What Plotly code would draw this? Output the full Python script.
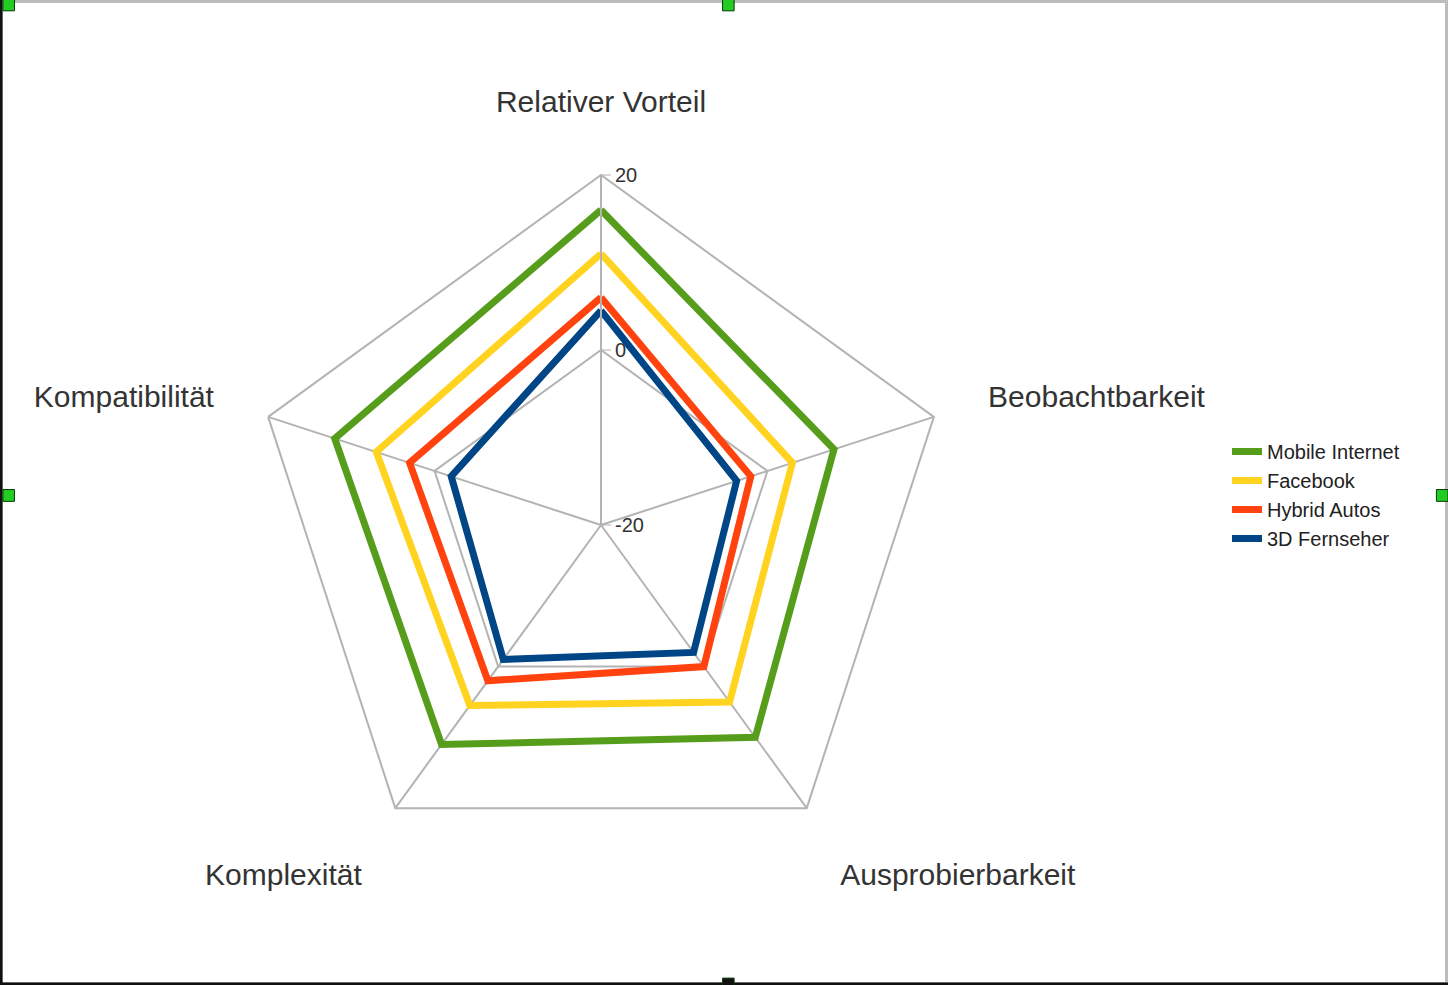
import plotly.graph_objects as go

categories = ["Relativer Vorteil", "Beobachtbarkeit", "Ausprobierbarkeit", "Komplexität", "Kompatibilität"]
series_names = ["Mobile Internet", "Facebook", "Hybrid Autos", "3D Fernseher"]
mobile_internet = [16, 8, 10, 11, 12]
facebook = [11, 3, 5, 5.5, 7]
hybrid_autos = [6, -2, 0, 2, 3]
fernseher_3d = [4.5, -3.7, -2, -1, -2]
series_values = [mobile_internet, facebook, hybrid_autos, fernseher_3d]
colors = ["#579d1c", "#ffd320", "#ff420e", "#004586"]
radial_ticks = [-20, 0, 20]

fig = go.Figure()
for i, (name, vals, col) in enumerate(zip(series_names, series_values, colors)):
    fig.add_trace(go.Scatterpolar(
        r=vals + [vals[0]],
        theta=categories + [categories[0]],
        mode="lines",
        name=name,
        legendgroup=f"g{i}",
        line=dict(color=col, width=7),
    ))

W, H = 1448, 985
cx, cy, R = 601, 525, 350

fig.update_layout(
    width=W, height=H,
    margin=dict(l=0, r=0, t=0, b=0),
    paper_bgcolor="white",
    plot_bgcolor="white",
    font=dict(family="Liberation Sans, Arial, sans-serif", color="#333333"),
    polar=dict(
        domain=dict(x=[(cx - R) / W, (cx + R) / W],
                    y=[(H - cy - R) / H, (H - cy + R) / H]),
        bgcolor="white",
        gridshape="linear",
        radialaxis=dict(
            range=[-20, 20],
            tickvals=radial_ticks,
            ticktext=[str(v) for v in radial_ticks],
            angle=90,
            tickangle=90,
            showline=True,
            linecolor="#b3b3b3",
            linewidth=2,
            gridcolor="#b3b3b3",
            gridwidth=1.5,
            ticks="outside",
            ticklen=9,
            tickcolor="#b3b3b3",
            tickfont=dict(size=20, color="#333333"),
        ),
        angularaxis=dict(
            rotation=90,
            direction="clockwise",
            showline=True,
            linecolor="#b3b3b3",
            linewidth=2,
            gridcolor="#b3b3b3",
            gridwidth=1.5,
            ticks="outside",
            ticklen=50,
            tickcolor="rgba(0,0,0,0)",
            tickfont=dict(size=30, color="#333333"),
        ),
    ),
    legend=dict(
        x=1227 / W, y=(H - 432) / H,
        xanchor="left", yanchor="top",
        font=dict(size=20, color="#222222"),
        traceorder="grouped",
        tracegroupgap=0,
        itemwidth=30,
        bgcolor="rgba(0,0,0,0)",
    ),
)

# frame of the chart object
fig.add_shape(type="rect", xref="paper", yref="paper", x0=0, y0=0, x1=1, y1=1,
              line=dict(color="#bdbdbd", width=6), layer="above")
fig.add_shape(type="line", xref="paper", yref="paper", x0=0.0007, y0=0, x1=0.0007, y1=1,
              line=dict(color="#111111", width=3), layer="above")
fig.add_shape(type="line", xref="paper", yref="paper", x0=0, y0=0.001, x1=1, y1=0.001,
              line=dict(color="#111111", width=3), layer="above")
# selection handles
for hx, hy, fc in [(0.006, 0.995, "#22cc22"), (0.503, 0.995, "#22cc22"),
                   (0.996, 0.497, "#22cc22"), (0.006, 0.497, "#22cc22"),
                   (0.503, 0.001, "#111111")]:
    fig.add_shape(type="rect", xref="paper", yref="paper",
                  x0=hx - 0.004, x1=hx + 0.004, y0=hy - 0.006, y1=hy + 0.006,
                  fillcolor=fc, line=dict(color="#0a3a0a", width=1), layer="above")

fig.write_html("out.html",
               config={"displayModeBar": False},
               post_script="document.body.style.margin='0';document.body.style.overflow='hidden';")
